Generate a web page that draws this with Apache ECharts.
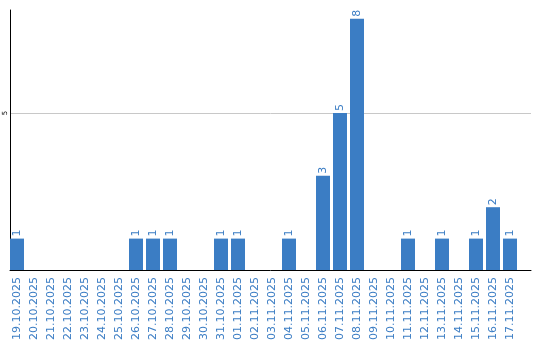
<!DOCTYPE html>
<html>
<head>
<meta charset="utf-8">
<script src="https://cdn.jsdelivr.net/npm/echarts@6/dist/echarts.min.js"></script>
<style>html,body{margin:0;padding:0;background:#fff}#c{width:540px;height:340px}</style>
</head>
<body>
<div id="c"></div>
<script>
const categories = ['19.10.2025','20.10.2025','21.10.2025','22.10.2025','23.10.2025','24.10.2025','25.10.2025','26.10.2025','27.10.2025','28.10.2025','29.10.2025','30.10.2025','31.10.2025','01.11.2025','02.11.2025','03.11.2025','04.11.2025','05.11.2025','06.11.2025','07.11.2025','08.11.2025','09.11.2025','10.11.2025','11.11.2025','12.11.2025','13.11.2025','14.11.2025','15.11.2025','16.11.2025','17.11.2025'];
const values = [1,0,0,0,0,0,0,1,1,1,0,0,1,1,0,0,1,0,3,5,8,0,0,1,0,1,0,1,2,1];
const yTicks = [5];

const blue = '#3b7dc4';
const chart = echarts.init(document.getElementById('c'), null, {renderer:'canvas'});
chart.setOption({
  animation: false,
  grid: [
    {left: 10, right: 9, top: 10, bottom: 70, containLabel: false, outerBoundsMode: 'none'},
    {left: 8.5, width: 510, top: 10, bottom: 70, containLabel: false, outerBoundsMode: 'none'}
  ],
  xAxis: [
    {gridIndex: 0, type: 'category', data: categories, axisLabel: {show: false}, axisTick: {show: false},
     axisLine: {lineStyle: {color: '#000', width: 1}}},
    {gridIndex: 1, type: 'category', data: categories, axisLine: {show: false}, axisTick: {show: false},
     axisLabel: {rotate: 90, interval: 0, margin: 7, color: blue, fontFamily: 'DejaVu Sans', fontSize: 11}}
  ],
  yAxis: [
    {gridIndex: 0, type: 'value', min: 0, max: 8.28, interval: 5,
     axisLine: {show: true, lineStyle: {color: '#000', width: 1}}, axisTick: {show: false},
     splitLine: {show: true, showMinLine: false, showMaxLine: false, lineStyle: {color: '#c8c8c8', width: 1}},
     axisLabel: {rotate: 90, margin: 1, fontSize: 7, color: '#000', fontFamily: 'DejaVu Sans',
       formatter: v => yTicks.includes(v) ? String(v) : ''}},
    {gridIndex: 1, type: 'value', min: 0, max: 8.28, interval: 5, show: false}
  ],
  series: [{
    type: 'bar', xAxisIndex: 1, yAxisIndex: 1,
    data: values.map(v => v === 0 ? null : v),
    barWidth: 14,
    itemStyle: {color: blue},
    label: {show: true, position: 'top', rotate: 90, align: 'left', verticalAlign: 'middle', distance: 2,
      color: blue, fontFamily: 'DejaVu Sans', fontSize: 11}
  }]
});
</script>
</body>
</html>
